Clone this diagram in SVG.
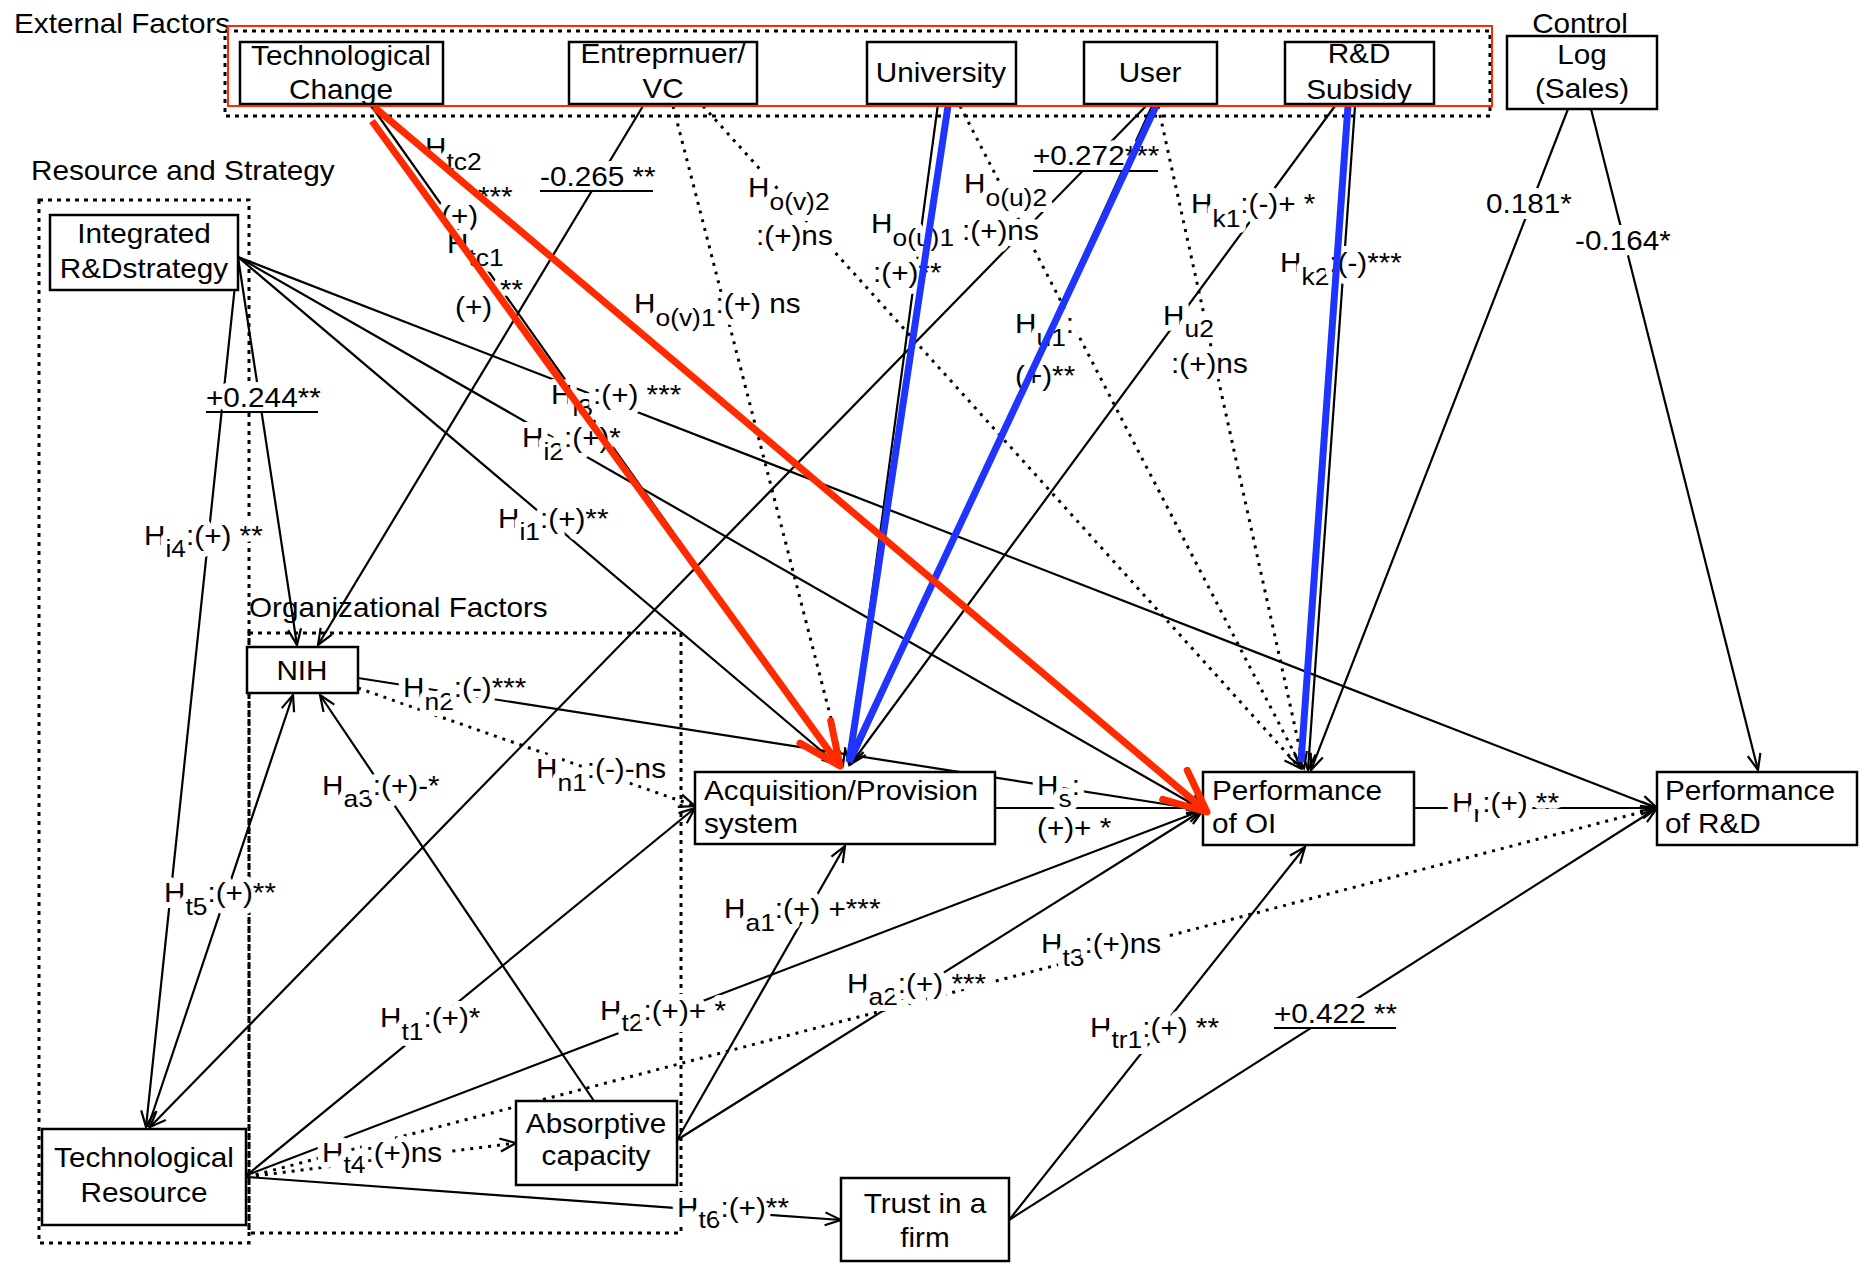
<svg xmlns="http://www.w3.org/2000/svg" width="1860" height="1263" viewBox="0 0 1860 1263">
<defs>
<style>
.t{font-family:"Liberation Sans",Arial,Helvetica,sans-serif;font-size:27px;fill:#000}
.m{text-anchor:middle}
.l{paint-order:stroke;stroke:#fff;stroke-width:12px;stroke-linejoin:round}
.s{font-size:24px}
.box{fill:#fff;stroke:#000;stroke-width:2.5}
.grp{fill:none;stroke:#000;stroke-width:3;stroke-dasharray:4 5}
.c{fill:none;stroke:#000;stroke-width:2.2}
.d{fill:none;stroke:#000;stroke-width:3;stroke-dasharray:3 6}
.a{marker-end:url(#ah)}
.ul{stroke:#000;stroke-width:2}
.red{fill:none;stroke:#ff2a00;stroke-width:7;marker-end:url(#ahr)}
.blue{fill:none;stroke:#1f35ff;stroke-width:7}
</style>
<marker id="ah" viewBox="-20 -10 24 20" refX="0" refY="0" markerWidth="24" markerHeight="20" markerUnits="userSpaceOnUse" orient="auto">
<path d="M-16,-6.5 L0,0 L-16,6.5" fill="none" stroke="#000" stroke-width="2.2" stroke-dasharray="none"/>
</marker>
<marker id="ahr" viewBox="-50 -26 56 52" refX="0" refY="0" markerWidth="56" markerHeight="52" markerUnits="userSpaceOnUse" orient="auto">
<path d="M-42,-19 L0,0 L-42,19" fill="none" stroke="#ff2a00" stroke-width="7" stroke-linecap="round" stroke-linejoin="round"/>
</marker>
</defs>
<rect width="1860" height="1263" fill="#fff"/>

<!-- group frames -->
<g id="frames">
<rect class="grp" x="225" y="31" width="1265" height="85"/>
<rect class="grp" x="39" y="200" width="210" height="1043"/>
<rect class="grp" x="249" y="633" width="432" height="600"/>
<text class="t" transform="matrix(1.1 0 0 1 14 33)">External Factors</text>
<text class="t" transform="matrix(1.1 0 0 1 31 180)">Resource and Strategy</text>
<text class="t" transform="matrix(1.1 0 0 1 249 617)">Organizational Factors</text>
<text class="t m" transform="matrix(1.1 0 0 1 1580 33)">Control</text>
</g>

<!-- connectors -->
<g id="connectors">
<!-- solid -->
<line class="c a" x1="370" y1="104" x2="838" y2="765"/>
<line class="c a" x1="368" y1="104" x2="1203" y2="810"/>
<line class="c a" x1="643" y1="106" x2="318" y2="645"/>
<line class="c a" x1="938" y1="104" x2="849" y2="764"/>
<line class="c a" x1="1146" y1="106" x2="150" y2="1127"/>
<line class="c a" x1="1152" y1="106" x2="851" y2="764"/>
<line class="c a" x1="1335" y1="106" x2="851" y2="764"/>
<line class="c a" x1="1355" y1="106" x2="1308" y2="770"/>
<line class="c a" x1="1568" y1="109" x2="1311" y2="770"/>
<line class="c a" x1="1591" y1="109" x2="1758" y2="770"/>
<line class="c a" x1="238" y1="257" x2="146" y2="1127"/>
<line class="c a" x1="238" y1="257" x2="297" y2="645"/>
<line class="c a" x1="238" y1="257" x2="838" y2="765"/>
<line class="c a" x1="238" y1="257" x2="1203" y2="810"/>
<line class="c a" x1="238" y1="257" x2="1657" y2="808"/>
<line class="c a" x1="358" y1="678" x2="1203" y2="810"/>
<line class="c a" x1="594" y1="1101" x2="320" y2="695"/>
<line class="c a" x1="148" y1="1127" x2="293" y2="695"/>
<line class="c a" x1="247" y1="1175" x2="695" y2="808"/>
<line class="c a" x1="247" y1="1175" x2="1203" y2="810"/>
<line class="c a" x1="247" y1="1177" x2="841" y2="1220"/>
<line class="c a" x1="995" y1="808" x2="1203" y2="808"/>
<line class="c a" x1="1414" y1="808" x2="1657" y2="808"/>
<line class="c a" x1="677" y1="1140" x2="845" y2="846"/>
<line class="c a" x1="677" y1="1140" x2="1203" y2="810"/>
<line class="c a" x1="1009" y1="1220" x2="1305" y2="847"/>
<line class="c a" x1="1009" y1="1220" x2="1657" y2="808"/>
<!-- dotted -->
<line class="d a" x1="673" y1="106" x2="843" y2="765"/>
<line class="d a" x1="703" y1="106" x2="1300" y2="768"/>
<line class="d a" x1="960" y1="106" x2="1302" y2="768"/>
<line class="d a" x1="1158" y1="106" x2="1304" y2="768"/>
<line class="d a" x1="358" y1="688" x2="695" y2="806"/>
<line class="d a" x1="247" y1="1177" x2="1657" y2="808"/>
<line class="d a" x1="247" y1="1177" x2="516" y2="1143"/>
</g>

<!-- nodes -->
<g id="node-techchange"><rect class="box" x="240" y="42" width="203" height="62"/>
<text class="t m" transform="matrix(1.1 0 0 1 341 65)">Technological</text><text class="t m" transform="matrix(1.1 0 0 1 341 99)">Change</text></g>
<g id="node-entrepreneur"><rect class="box" x="569" y="42" width="188" height="62"/>
<text class="t m" transform="matrix(1.1 0 0 1 663 63)">Entreprnuer/</text><text class="t m" transform="matrix(1.1 0 0 1 663 98)">VC</text></g>
<g id="node-university"><rect class="box" x="867" y="42" width="149" height="62"/>
<text class="t m" transform="matrix(1.1 0 0 1 941 82)">University</text></g>
<g id="node-user"><rect class="box" x="1084" y="42" width="133" height="62"/>
<text class="t m" transform="matrix(1.1 0 0 1 1150 82)">User</text></g>
<g id="node-subsidy"><rect class="box" x="1285" y="42" width="149" height="62"/>
<text class="t m" transform="matrix(1.1 0 0 1 1359 63)">R&amp;D</text><text class="t m" transform="matrix(1.1 0 0 1 1359 99)">Subsidy</text></g>
<g id="node-logsales"><rect class="box" x="1507" y="36" width="150" height="73"/>
<text class="t m" transform="matrix(1.1 0 0 1 1582 64)">Log</text><text class="t m" transform="matrix(1.1 0 0 1 1582 98)">(Sales)</text></g>
<g id="node-strategy"><rect class="box" x="50" y="215" width="188" height="75"/>
<text class="t m" transform="matrix(1.1 0 0 1 144 243)">Integrated</text><text class="t m" transform="matrix(1.1 0 0 1 144 278)">R&amp;Dstrategy</text></g>
<g id="node-nih"><rect class="box" x="247" y="647" width="111" height="46"/>
<text class="t m" transform="matrix(1.1 0 0 1 302 680)">NIH</text></g>
<g id="node-acq"><rect class="box" x="695" y="772" width="300" height="72"/>
<text class="t" transform="matrix(1.1 0 0 1 704 800)">Acquisition/Provision</text><text class="t" transform="matrix(1.1 0 0 1 704 833)">system</text></g>
<g id="node-perfoi"><rect class="box" x="1203" y="772" width="211" height="73"/>
<text class="t" transform="matrix(1.1 0 0 1 1212 800)">Performance</text><text class="t" transform="matrix(1.1 0 0 1 1212 833)">of OI</text></g>
<g id="node-perfrd"><rect class="box" x="1657" y="772" width="200" height="73"/>
<text class="t" transform="matrix(1.1 0 0 1 1665 800)">Performance</text><text class="t" transform="matrix(1.1 0 0 1 1665 833)">of R&amp;D</text></g>
<g id="node-absorptive"><rect class="box" x="516" y="1101" width="161" height="84"/>
<text class="t m" transform="matrix(1.1 0 0 1 596 1133)">Absorptive</text><text class="t m" transform="matrix(1.1 0 0 1 596 1165)">capacity</text></g>
<g id="node-techresource"><rect class="box" x="42" y="1129" width="204" height="96"/>
<text class="t m" transform="matrix(1.1 0 0 1 144 1167)">Technological</text><text class="t m" transform="matrix(1.1 0 0 1 144 1202)">Resource</text></g>
<g id="node-trust"><rect class="box" x="841" y="1178" width="168" height="83"/>
<text class="t m" transform="matrix(1.1 0 0 1 925 1213)">Trust in a</text><text class="t m" transform="matrix(1.1 0 0 1 925 1247)">firm</text></g>

<!-- labels -->
<g id="labels">
<text class="t l" transform="matrix(1.1 0 0 1 425 157)">H<tspan class="s" dy="13">tc2</tspan></text>
<text class="t l" transform="matrix(1.1 0 0 1 478 206)">***</text>
<text class="t l" transform="matrix(1.1 0 0 1 441 225)">(+)</text>
<text class="t l" transform="matrix(1.1 0 0 1 447 253)">H<tspan class="s" dy="13">tc1</tspan></text>
<text class="t l" transform="matrix(1.1 0 0 1 500 299)">**</text>
<text class="t l" transform="matrix(1.1 0 0 1 455 316)">(+)</text>
<text class="t l" transform="matrix(1.1 0 0 1 540 186)">-0.265 **</text>
<line class="ul" x1="540" y1="191" x2="653" y2="191"/>
<text class="t l" transform="matrix(1.1 0 0 1 748 197)">H<tspan class="s" dy="13">o(v)2</tspan></text>
<text class="t l" transform="matrix(1.1 0 0 1 756 245)">:(+)ns</text>
<text class="t l" transform="matrix(1.1 0 0 1 634 313)">H<tspan class="s" dy="13">o(v)1</tspan><tspan dy="-13">:(+) ns</tspan></text>
<text class="t l" transform="matrix(1.1 0 0 1 964 193)">H<tspan class="s" dy="13">o(u)2</tspan></text>
<text class="t l" transform="matrix(1.1 0 0 1 871 233)">H<tspan class="s" dy="13">o(u)1</tspan></text>
<text class="t l" transform="matrix(1.1 0 0 1 962 240)">:(+)ns</text>
<text class="t l" transform="matrix(1.1 0 0 1 873 282)">:(+)**</text>
<text class="t l" transform="matrix(1.1 0 0 1 1033 165)">+0.272***</text>
<line class="ul" x1="1033" y1="171" x2="1158" y2="171"/>
<text class="t l" transform="matrix(1.1 0 0 1 1191 213)">H<tspan class="s" dy="14">k1</tspan><tspan dy="-14">:(-)+ *</tspan></text>
<text class="t l" transform="matrix(1.1 0 0 1 1280 272)">H<tspan class="s" dy="13">k2</tspan><tspan dy="-13">:(-)***</tspan></text>
<text class="t l" transform="matrix(1.1 0 0 1 1015 333)">H<tspan class="s" dy="13">u1</tspan><tspan dy="-13">:</tspan></text>
<text class="t l" transform="matrix(1.1 0 0 1 1015 385)">(+)**</text>
<text class="t l" transform="matrix(1.1 0 0 1 1163 325)">H<tspan class="s" dy="12">u2</tspan></text>
<text class="t l" transform="matrix(1.1 0 0 1 1171 373)">:(+)ns</text>
<text class="t l" transform="matrix(1.1 0 0 1 1486 213)">0.181*</text>
<text class="t l" transform="matrix(1.1 0 0 1 1575 250)">-0.164*</text>
<text class="t l" transform="matrix(1.1 0 0 1 206 407)">+0.244**</text>
<line class="ul" x1="206" y1="412" x2="318" y2="412"/>
<text class="t l" transform="matrix(1.1 0 0 1 144 545)">H<tspan class="s" dy="12">i4</tspan><tspan dy="-12">:(+) **</tspan></text>
<text class="t l" transform="matrix(1.1 0 0 1 551 404)">H<tspan class="s" dy="12">i3</tspan><tspan dy="-12">:(+) ***</tspan></text>
<text class="t l" transform="matrix(1.1 0 0 1 522 447)">H<tspan class="s" dy="13">i2</tspan><tspan dy="-13">:(+)*</tspan></text>
<text class="t l" transform="matrix(1.1 0 0 1 498 528)">H<tspan class="s" dy="12">i1</tspan><tspan dy="-12">:(+)**</tspan></text>
<text class="t l" transform="matrix(1.1 0 0 1 403 697)">H<tspan class="s" dy="13">n2</tspan><tspan dy="-13">:(-)***</tspan></text>
<text class="t l" transform="matrix(1.1 0 0 1 536 778)">H<tspan class="s" dy="13">n1</tspan><tspan dy="-13">:(-)-ns</tspan></text>
<text class="t l" transform="matrix(1.1 0 0 1 322 795)">H<tspan class="s" dy="12">a3</tspan><tspan dy="-12">:(+)-*</tspan></text>
<text class="t l" transform="matrix(1.1 0 0 1 164 902)">H<tspan class="s" dy="13">t5</tspan><tspan dy="-13">:(+)**</tspan></text>
<text class="t l" transform="matrix(1.1 0 0 1 724 918)">H<tspan class="s" dy="13">a1</tspan><tspan dy="-13">:(+) +***</tspan></text>
<text class="t l" transform="matrix(1.1 0 0 1 1037 795)">H<tspan class="s" dy="12">s</tspan><tspan dy="-12">:</tspan></text>
<text class="t l" transform="matrix(1.1 0 0 1 1037 837)">(+)+ *</text>
<text class="t l" transform="matrix(1.1 0 0 1 1452 812)">H<tspan class="s" dy="10">r</tspan><tspan dy="-10">:(+) **</tspan></text>
<text class="t l" transform="matrix(1.1 0 0 1 1041 953)">H<tspan class="s" dy="13">t3</tspan><tspan dy="-13">:(+)ns</tspan></text>
<text class="t l" transform="matrix(1.1 0 0 1 847 993)">H<tspan class="s" dy="12">a2</tspan><tspan dy="-12">:(+) ***</tspan></text>
<text class="t l" transform="matrix(1.1 0 0 1 600 1020)">H<tspan class="s" dy="11">t2</tspan><tspan dy="-11">:(+)+ *</tspan></text>
<text class="t l" transform="matrix(1.1 0 0 1 380 1027)">H<tspan class="s" dy="13">t1</tspan><tspan dy="-13">:(+)*</tspan></text>
<text class="t l" transform="matrix(1.1 0 0 1 322 1162)">H<tspan class="s" dy="11">t4</tspan><tspan dy="-11">:(+)ns</tspan></text>
<text class="t l" transform="matrix(1.1 0 0 1 677 1217)">H<tspan class="s" dy="11">t6</tspan><tspan dy="-11">:(+)**</tspan></text>
<text class="t l" transform="matrix(1.1 0 0 1 1090 1037)">H<tspan class="s" dy="11">tr1</tspan><tspan dy="-11">:(+) **</tspan></text>
<text class="t l" transform="matrix(1.1 0 0 1 1274 1023)">+0.422 **</text>
<line class="ul" x1="1274" y1="1028" x2="1396" y2="1028"/>
</g>

<!-- highlight overlays -->
<g id="highlights">
<line class="blue" x1="948" y1="106" x2="849" y2="762"/>
<line class="blue" x1="1156" y1="106" x2="849" y2="762"/>
<line class="blue" x1="1348" y1="106" x2="1301" y2="762"/>
<line class="red" x1="372" y1="121" x2="840" y2="766"/>
<line class="red" x1="374" y1="107" x2="1207" y2="812"/>
<rect x="228" y="26" width="1264" height="80" fill="none" stroke="#ff2a00" stroke-width="2"/>
</g>
</svg>
